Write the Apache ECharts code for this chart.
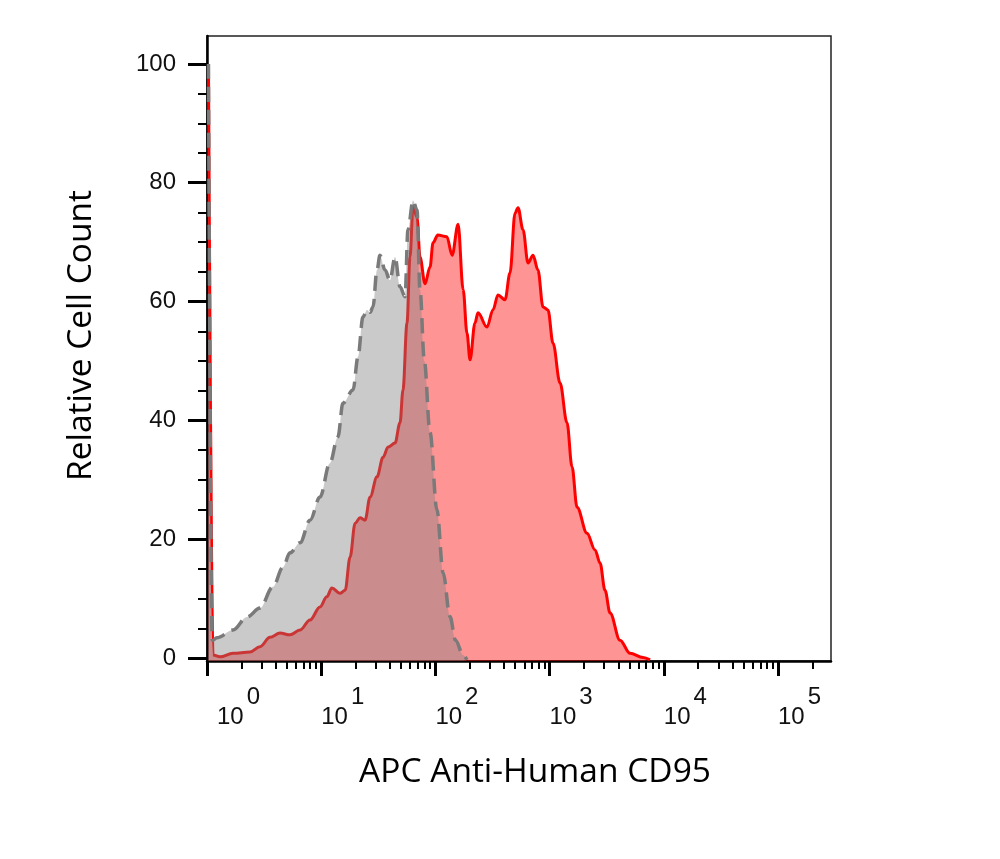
<!DOCTYPE html>
<html>
<head>
<meta charset="utf-8">
<title>APC Anti-Human CD95</title>
<script src="https://cdn.jsdelivr.net/npm/echarts@6/dist/echarts.min.js"></script>
<style>
  html, body { margin: 0; padding: 0; background: #fff; }
  #chart { width: 1000px; height: 859px; }
</style>
</head>
<body>
<div id="chart"></div>
<script>
// fluorescence intensity (log scale) / relative cell count
var redData = [
  [1.03, 100], [1.13, 0.5], [1.30, 0.2], [1.69, 0.8], [2.38, 1.0], [2.91, 1.9],
  [3.56, 3.5], [4.36, 4.2], [5.33, 3.9], [6.52, 4.7], [7.98, 6.4], [9.76, 8.6],
  [11.2, 10.3], [12.4, 11.8], [14.6, 10.9], [16.2, 11.4], [17.9, 17.0], [19.8, 22.7],
  [21.9, 23.6], [24.2, 23.2], [26.8, 27.1], [30.8, 30.5], [34.8, 33.8], [38.5, 35.5],
  [44.3, 36.2], [49.0, 39.6], [52.0, 45.1], [56.4, 56.4], [59.9, 67.5], [63.7, 76.0],
  [69.0, 74.2], [73.3, 67.5], [81.1, 63.0], [89.7, 65.8], [95.3, 69.9], [105, 71.2],
  [126, 70.9], [140, 67.8], [158, 73.0], [175, 62.0], [189, 54.7], [201, 50.2],
  [222, 56.4], [236, 58.1], [283, 55.7], [319, 58.6], [353, 61.1], [407, 60.3],
  [450, 64.8], [498, 74.9], [529, 75.8], [585, 72.1], [647, 66.5], [716, 67.8],
  [791, 65.3], [875, 59.1], [968, 58.6], [1071, 53.0], [1234, 46.3], [1420, 39.6],
  [1571, 32.2], [1738, 25.4], [2125, 21.0], [2499, 18.2], [2763, 16.0], [3056, 11.4],
  [3382, 7.6], [4134, 3.0], [5057, 0.8], [6577, 0.1], [7574, -0.3]
];
var grayData = [
  [1.03, 100], [1.11, 3.0], [1.22, 3.4], [1.69, 4.7], [2.24, 6.9], [2.91, 8.4],
  [3.78, 12.0], [4.63, 15.3], [5.33, 17.7], [6.52, 19.4], [7.98, 23.2], [9.76, 27.1],
  [11.9, 32.8], [14.0, 37.2], [15.5, 42.9], [19.0, 45.1], [21.0, 50.7], [23.2, 57.4],
  [25.2, 58.6], [26.8, 58.2], [28.4, 59.1], [30.8, 65.3], [32.7, 67.8], [36.2, 65.3],
  [40.0, 63.6], [44.3, 67.5], [49.0, 62.5], [54.2, 60.8], [57.5, 72.1], [63.7, 77.0],
  [69.0, 75.4], [73.3, 62.0], [80.0, 50.0], [89.7, 38.0], [103, 25.0], [117, 14.3],
  [134, 7.0], [150, 3.0], [175, 0.5], [189, -0.3]
];

var xMajorTicks = [1, 10, 100, 1000, 10000, 100000];
var xMinorTicks = [
  2, 3, 4, 5, 6, 7, 8, 9,
  20, 30, 40, 50, 60, 70, 80, 90,
  200, 300, 400, 500, 600, 700, 800, 900,
  2000, 3000, 4000, 5000, 6000, 7000, 8000, 9000,
  20000, 30000, 40000, 50000, 60000, 70000, 80000, 90000,
  200000
];
var yMajorTicks = [0, 20, 40, 60, 80, 100];
var yMinorTicks = [5, 10, 15, 25, 30, 35, 45, 50, 55, 65, 70, 75, 85, 90, 95];

var chart = echarts.init(document.getElementById('chart'));

var X_MIN = 1, X_MAX = 291000, Y_MIN = -0.5, Y_MAX = 104.7;

function xAxisBase(show) {
  return {
    type: 'log',
    logBase: 10,
    min: X_MIN,
    max: X_MAX,
    position: 'bottom',
    splitLine: { show: false },
    minorTick: { show: false },
    axisLine: { show: show, onZero: false, lineStyle: { color: '#000', width: 2.5 } }
  };
}

function yAxisBase(show) {
  return {
    type: 'value',
    min: Y_MIN,
    max: Y_MAX,
    position: 'left',
    splitLine: { show: false },
    axisLine: { show: show, onZero: false, lineStyle: { color: '#000', width: 2.5 } }
  };
}

var xMain = xAxisBase(true);
xMain.name = 'APC Anti-Human CD95';
xMain.nameLocation = 'middle';
xMain.nameGap = 94;
xMain.nameTextStyle = { fontFamily: 'Open Sans', fontSize: 33.5, color: '#000',
  verticalAlign: 'top', padding: [0, 0, 0, 32] };
xMain.axisTick = { show: true, inside: false, length: 15, customValues: xMajorTicks,
  lineStyle: { color: '#000', width: 3 } };
xMain.axisLabel = {
  show: true,
  customValues: xMajorTicks,
  margin: 24,
  align: 'left',
  verticalAlign: 'top',
  formatter: function (v) {
    var exp = Math.round(Math.log(v) / Math.LN10);
    var pre = exp === 0 ? '{sp|}' : '';
    return pre + '{b|10}{s|' + exp + '}';
  },
  rich: {
    sp: { width: 10 },
    b: { fontFamily: 'Liberation Sans', fontSize: 24, color: '#111', padding: [20, 0, 0, 0], verticalAlign: 'top' },
    s: { fontFamily: 'Liberation Sans', fontSize: 24, color: '#111', padding: [0, 0, 0, 3], verticalAlign: 'top' }
  }
};

var xMinor = xAxisBase(false);
xMinor.axisTick = { show: true, inside: false, length: 8, customValues: xMinorTicks,
  lineStyle: { color: '#000', width: 2 } };
xMinor.axisLabel = { show: false };

var yMain = yAxisBase(true);
yMain.name = 'Relative Cell Count';
yMain.nameLocation = 'middle';
yMain.nameGap = 109;
yMain.nameTextStyle = { fontFamily: 'Open Sans', fontSize: 33.5, color: '#000',
  padding: [0, 0, 0, 26] };
yMain.axisTick = { show: true, inside: false, length: 19, customValues: yMajorTicks,
  lineStyle: { color: '#000', width: 3 } };
yMain.axisLabel = {
  show: true,
  customValues: yMajorTicks,
  margin: 31,
  fontFamily: 'Liberation Sans',
  fontSize: 24,
  color: '#111'
};

var yMinor = yAxisBase(false);
yMinor.axisTick = { show: true, inside: false, length: 9, customValues: yMinorTicks,
  lineStyle: { color: '#000', width: 2 } };
yMinor.axisLabel = { show: false };

var option = {
  backgroundColor: '#fff',
  animation: false,
  grid: {
    left: 207,
    right: 169,
    top: 36,
    bottom: 198,
    outerBoundsMode: 'none',
    containLabel: false,
    show: true,
    borderColor: '#222',
    borderWidth: 1.5,
    backgroundColor: 'transparent'
  },
  xAxis: [xMain, xMinor],
  yAxis: [yMain, yMinor],
  series: [{
    name: 'CD95',
    type: 'line',
    xAxisIndex: 0,
    yAxisIndex: 0,
    data: redData,
    showSymbol: false,
    symbol: 'none',
    smooth: 0.35,
    smoothMonotone: 'x',
    lineStyle: { color: '#ff0000', width: 3 },
    areaStyle: { color: 'rgba(255,0,0,0.42)', opacity: 1, origin: 'start' },
    z: 2
  }, {
    name: 'Isotype',
    type: 'line',
    xAxisIndex: 0,
    yAxisIndex: 0,
    data: grayData,
    showSymbol: false,
    symbol: 'none',
    smooth: 0.35,
    smoothMonotone: 'x',
    lineStyle: { color: '#7a7a7a', width: 3.5, type: [15, 8] },
    areaStyle: { color: 'rgba(128,128,128,0.42)', opacity: 1, origin: 'start' },
    z: 3
  }]
};

chart.setOption(option);
</script>
</body>
</html>
